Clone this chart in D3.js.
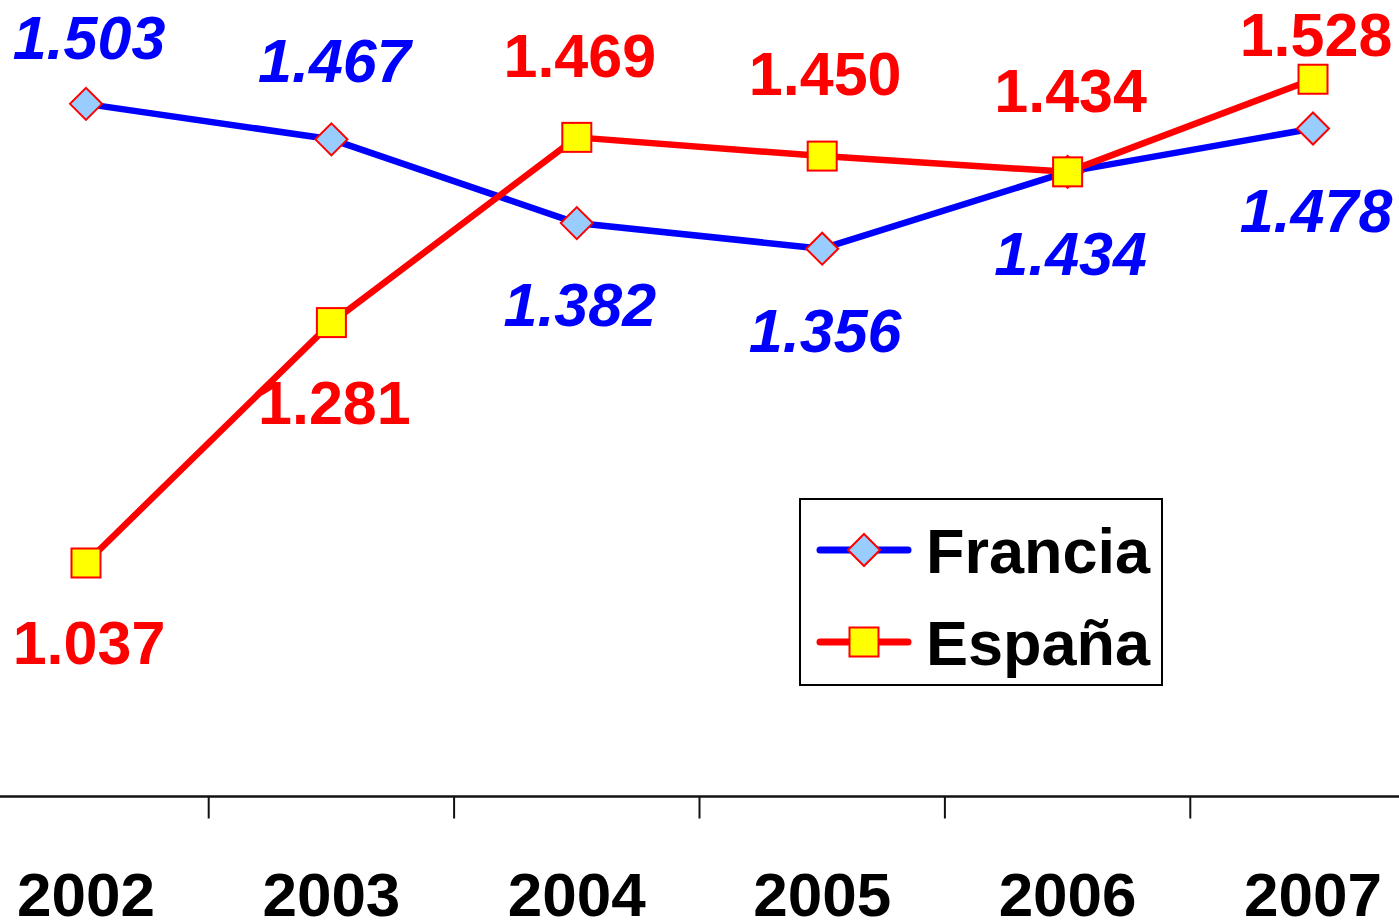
<!DOCTYPE html>
<html>
<head>
<meta charset="utf-8">
<script src="https://cdn.jsdelivr.net/npm/d3@7"></script>
<style>
  body { margin: 0; background: #fff; }
  text { font-family: 'Liberation Sans', Arial, sans-serif; font-weight: bold; }
</style>
</head>
<body>
<div id="chart"></div>
<script>
const years = ['2002', '2003', '2004', '2005', '2006', '2007']
const francia = [1.503, 1.467, 1.382, 1.356, 1.434, 1.478]
const espana = [1.037, 1.281, 1.469, 1.450, 1.434, 1.528]

// label placement (px from point): negative = above
const franciaLabelDy = [-45, -57, 103, 103, 103, 103]
const espanaLabelDy = [101, 101, -60, -61, -60, -23]

const width = 1399
const height = 924

const svg = d3
  .select('#chart')
  .append('svg')
  .attr('width', width)
  .attr('height', height)

const xScale = d3
  .scaleBand()
  .domain(years)
  .range([-36.7, 1435.7])

const yScale = d3
  .scaleLinear()
  .domain([0.8, 1.6])
  .range([796.5, 8.3])

const cx = d => xScale(d) + xScale.bandwidth() / 2

// x axis
const axisG = svg.append('g').attr('transform', 'translate(0,' + yScale(0.8) + ')')
axisG
  .append('line')
  .attr('x1', 0)
  .attr('x2', width)
  .attr('stroke', '#111')
  .attr('stroke-width', 2.5)

axisG
  .selectAll('.tick')
  .data(years.slice(1))
  .enter()
  .append('line')
  .attr('x1', d => xScale(d))
  .attr('x2', d => xScale(d))
  .attr('y1', 0)
  .attr('y2', 22)
  .attr('stroke', '#111')
  .attr('stroke-width', 2)

axisG
  .selectAll('.year')
  .data(years)
  .enter()
  .append('text')
  .text(d => d)
  .attr('x', d => cx(d))
  .attr('y', 119)
  .attr('font-size', 62)
  .attr('text-anchor', 'middle')
  .attr('fill', '#000')

const line = d3
  .line()
  .x((d, i) => cx(years[i]))
  .y(d => yScale(d))

const diamond = 'M0,-16L16,0L0,16L-16,0Z'

function drawSeries(values, color, markerFn, labelDy, italic) {
  const g = svg.append('g')
  g.append('path')
    .datum(values)
    .attr('d', line)
    .attr('fill', 'none')
    .attr('stroke', color)
    .attr('stroke-width', 6.5)
    .attr('stroke-linejoin', 'round')

  g.selectAll('.marker')
    .data(values)
    .enter()
    .append('g')
    .attr('transform', (d, i) => 'translate(' + cx(years[i]) + ',' + yScale(d) + ')')
    .each(function(d) {
      markerFn(d3.select(this))
    })

  g.selectAll('.label')
    .data(values)
    .enter()
    .append('text')
    .text(d => d3.format('.3f')(d))
    .attr('x', (d, i) => cx(years[i]) + 3)
    .attr('y', (d, i) => yScale(d) + labelDy[i])
    .attr('font-size', 61)
    .attr('font-style', italic ? 'italic' : 'normal')
    .attr('text-anchor', 'middle')
    .attr('fill', color)
  return g
}

const diamondMarker = sel =>
  sel
    .append('path')
    .attr('d', diamond)
    .attr('fill', '#99ccff')
    .attr('stroke', '#ff0000')
    .attr('stroke-width', 2)

const squareMarker = sel =>
  sel
    .append('rect')
    .attr('x', -14.5)
    .attr('y', -14.5)
    .attr('width', 29)
    .attr('height', 29)
    .attr('fill', '#ffff00')
    .attr('stroke', '#ff0000')
    .attr('stroke-width', 2)

drawSeries(francia, '#0000ff', diamondMarker, franciaLabelDy, true)
drawSeries(espana, '#ff0000', squareMarker, espanaLabelDy, false)

// legend
const legend = svg.append('g').attr('transform', 'translate(800,499)')
legend
  .append('rect')
  .attr('width', 362)
  .attr('height', 186)
  .attr('fill', '#fff')
  .attr('stroke', '#000')
  .attr('stroke-width', 2)

const legendItems = [
  { name: 'Francia', color: '#0000ff', marker: diamondMarker },
  { name: 'España', color: '#ff0000', marker: squareMarker }
]

legendItems.forEach(function(item, i) {
  const row = legend.append('g').attr('transform', 'translate(0,' + (51 + i * 92) + ')')
  row
    .append('line')
    .attr('x1', 20)
    .attr('x2', 108)
    .attr('stroke', item.color)
    .attr('stroke-width', 7)
    .attr('stroke-linecap', 'round')
  item.marker(row.append('g').attr('transform', 'translate(64,0)'))
  row
    .append('text')
    .text(item.name)
    .attr('x', 126)
    .attr('y', 23)
    .attr('font-size', 63)
    .attr('fill', '#000')
})
</script>
</body>
</html>
